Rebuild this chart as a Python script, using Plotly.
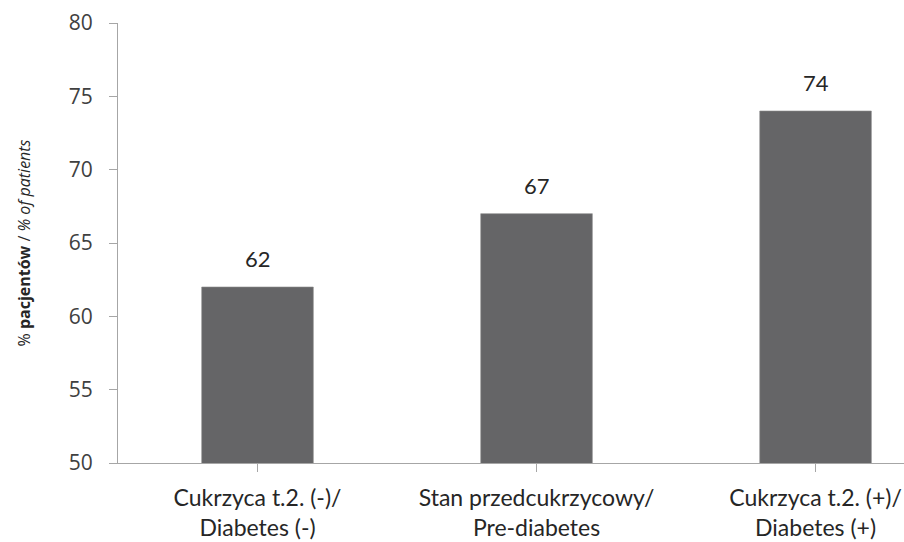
import plotly.graph_objects as go

# Share of patients per glycaemic status group
categories = [
    "Cukrzyca t.2. (-)/<br>Diabetes (-)",
    "Stan przedcukrzycowy/<br>Pre-diabetes",
    "Cukrzyca t.2. (+)/<br>Diabetes (+)",
]
values = [62, 67, 74]
y_ticks = [50, 55, 60, 65, 70, 75, 80]

bar_color = "#656567"
axis_color = "#a6a6a6"
text_color = "#404040"
label_font = "Lato, Roboto, sans-serif"

fig = go.Figure()
fig.add_trace(go.Bar(
    x=list(range(len(categories))),
    y=values,
    width=0.4,
    marker=dict(color=bar_color, line=dict(color="#8a8a8a", width=0.6)),
    hoverinfo="skip",
))

# value labels above each bar
for i, v in enumerate(values):
    fig.add_annotation(
        x=i, y=v, text=str(v), showarrow=False,
        yanchor="bottom", yshift=13,
        font=dict(family=label_font, size=22, color="#262626"),
    )

fig.update_layout(
    width=904, height=542,
    margin=dict(l=118, r=0, t=23, b=79),
    plot_bgcolor="white", paper_bgcolor="white",
    showlegend=False,
    bargap=0.6,
)

fig.update_xaxes(
    range=[-0.5, 2.317],
    tickmode="array",
    tickvals=list(range(len(categories))),
    ticktext=categories,
    tickson="boundaries",
    ticks="outside", ticklen=8, tickcolor=axis_color,
    showline=True, linecolor=axis_color, linewidth=1.2,
    showgrid=False, zeroline=False,
    tickfont=dict(family=label_font, size=23, color="#262626"),
    ticklabelstandoff=6,
)

fig.update_yaxes(
    range=[50, 80],
    tickmode="array", tickvals=y_ticks,
    ticks="outside", ticklen=8, tickcolor=axis_color,
    showline=True, linecolor=axis_color, linewidth=1.2,
    showgrid=False, zeroline=False,
    tickfont=dict(family="Open Sans, DejaVu Sans, sans-serif", size=21, color=text_color),
    ticklabelstandoff=12,
    title=dict(
        text="% <b>pacjentów</b> / <i>% of patients</i>",
        font=dict(family="Open Sans, DejaVu Sans, sans-serif", size=16, color="#262626"),
        standoff=34,
    ),
)

fig.write_html("out.html")
